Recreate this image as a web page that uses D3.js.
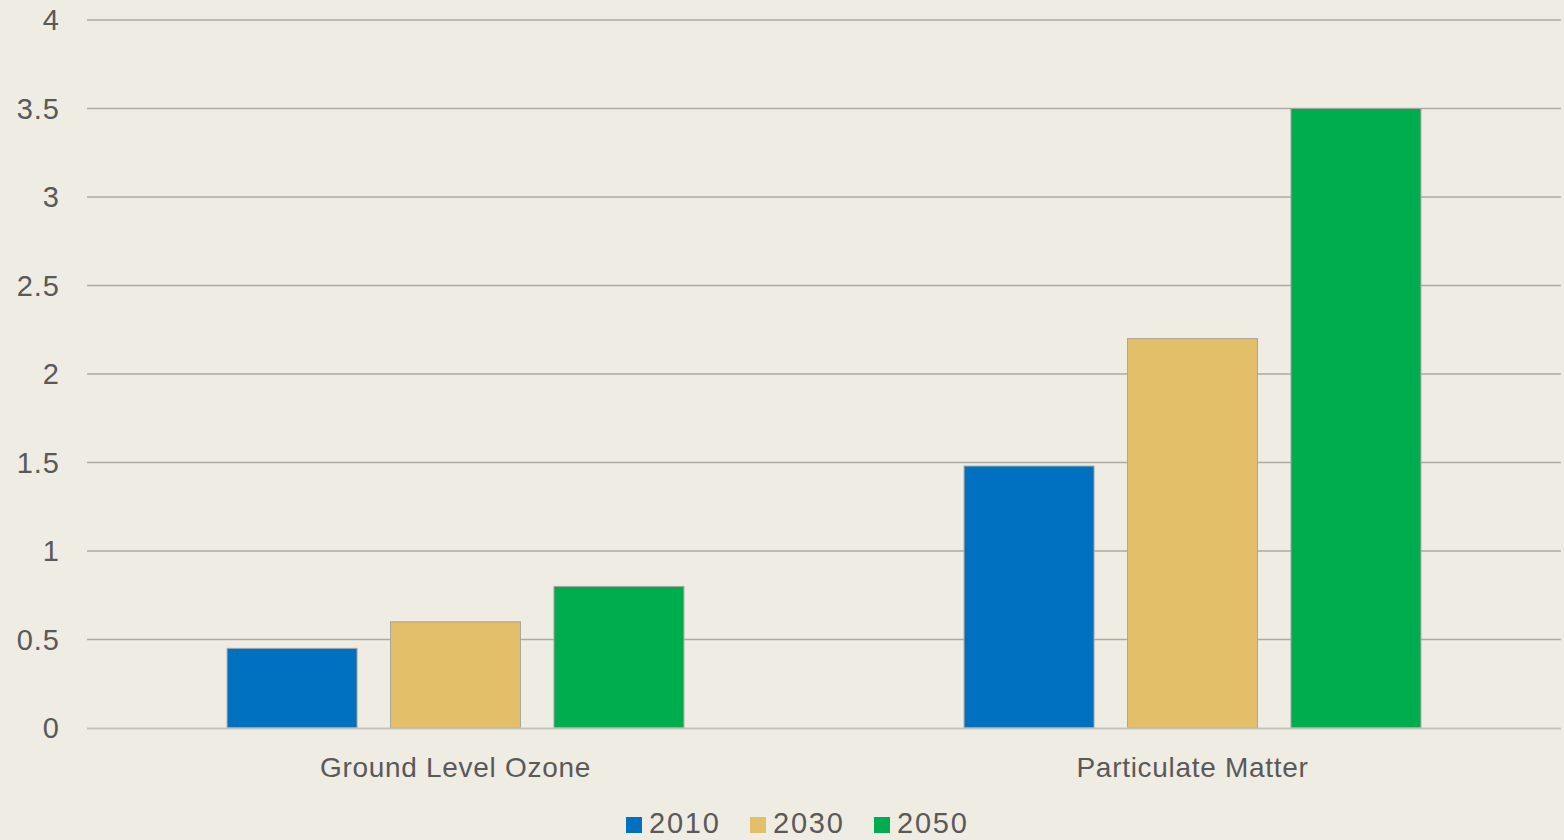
<!DOCTYPE html>
<html>
<head>
<meta charset="utf-8">
<script src="https://cdn.jsdelivr.net/npm/d3@7"></script>
<style>
  body { margin: 0; background: #efece4; }
  svg text { font-family: "Liberation Sans", Arial, sans-serif; fill: #595959; }
</style>
</head>
<body>
<div class="bar-chart"></div>
<script>
var categories = ["Ground Level Ozone", "Particulate Matter"];
var series = ["2010", "2030", "2050"];
var values2010 = [0.45, 1.48];
var values2030 = [0.6, 2.2];
var values2050 = [0.8, 3.5];
var yTicks = [0, 0.5, 1, 1.5, 2, 2.5, 3, 3.5, 4];
var colors = ["#0070c0", "#e3bf6a", "#00ad4e"];

var W = 1564, H = 840;
var margin = {top: 20, right: 3, bottom: 112, left: 87};
var width = W - margin.left - margin.right,
    height = H - margin.top - margin.bottom;

var svg = d3.select(".bar-chart").append("svg")
  .attr("width", W)
  .attr("height", H)
  .append("g")
  .attr("transform", "translate(" + margin.left + "," + margin.top + ")");

var x0 = d3.scaleBand().domain(categories).range([0, width]).padding(0);
var x1 = d3.scaleBand().domain(series).range([0, x0.bandwidth()])
  .paddingInner(0.205).paddingOuter(0.857);
var y = d3.scaleLinear().domain([0, 4]).range([height, 0]);
var color = d3.scaleOrdinal().domain(series).range(colors);

var rows = categories.map(function (c, i) {
  return {cat: c, vals: [values2010[i], values2030[i], values2050[i]]};
});

// gridlines
svg.append("g")
  .selectAll("line")
  .data(yTicks.slice(1))
  .enter().append("line")
  .attr("x1", 0).attr("x2", width)
  .attr("y1", function (d) { return y(d); })
  .attr("y2", function (d) { return y(d); })
  .style("stroke", "#acaaa5")
  .style("stroke-width", 1.5);

// y labels
svg.append("g")
  .selectAll("text")
  .data(yTicks)
  .enter().append("text")
  .attr("x", -27)
  .attr("y", function (d) { return y(d); })
  .attr("dy", "0.35em")
  .style("text-anchor", "end")
  .style("font-size", "29px")
  .style("letter-spacing", "1px")
  .text(function (d) { return d; });

// bars
svg.selectAll(".group")
  .data(rows)
  .enter().append("g")
  .attr("class", "group")
  .attr("transform", function (d) { return "translate(" + x0(d.cat) + ",0)"; })
  .selectAll("rect")
  .data(function (d) { return d.vals.map(function (v, j) { return {s: series[j], v: v}; }); })
  .enter().append("rect")
  .attr("x", function (d) { return x1(d.s); })
  .attr("width", x1.bandwidth())
  .attr("y", function (d) { return y(d.v); })
  .attr("height", function (d) { return y(0) - y(d.v); })
  .style("fill", function (d) { return color(d.s); })
  .style("stroke", "#a8a69f")
  .style("stroke-width", 1);

// baseline
svg.append("line")
  .attr("x1", 0).attr("x2", width)
  .attr("y1", height + 0.5).attr("y2", height + 0.5)
  .style("stroke", "#c5c3bd")
  .style("stroke-width", 2);

// category labels
svg.append("g")
  .selectAll("text")
  .data(categories)
  .enter().append("text")
  .attr("x", function (d) { return x0(d) + x0.bandwidth() / 2; })
  .attr("y", height + 49)
  .style("text-anchor", "middle")
  .style("font-size", "28px")
  .style("letter-spacing", "0.7px")
  .text(function (d) { return d; });

// legend
var legendX = [626, 750, 874];
var legend = svg.append("g")
  .attr("transform", "translate(" + (-margin.left) + "," + (H - margin.top - 17) + ")");
var item = legend.selectAll("g")
  .data(series)
  .enter().append("g")
  .attr("transform", function (d, i) { return "translate(" + legendX[i] + ",0)"; });
item.append("rect")
  .attr("x", 0).attr("y", -6)
  .attr("width", 16).attr("height", 16)
  .style("fill", function (d) { return color(d); });
item.append("text")
  .attr("x", 23)
  .attr("y", 0)
  .attr("dy", "0.36em")
  .style("font-size", "29px")
  .style("letter-spacing", "1.8px")
  .text(function (d) { return d; });
</script>
</body>
</html>
